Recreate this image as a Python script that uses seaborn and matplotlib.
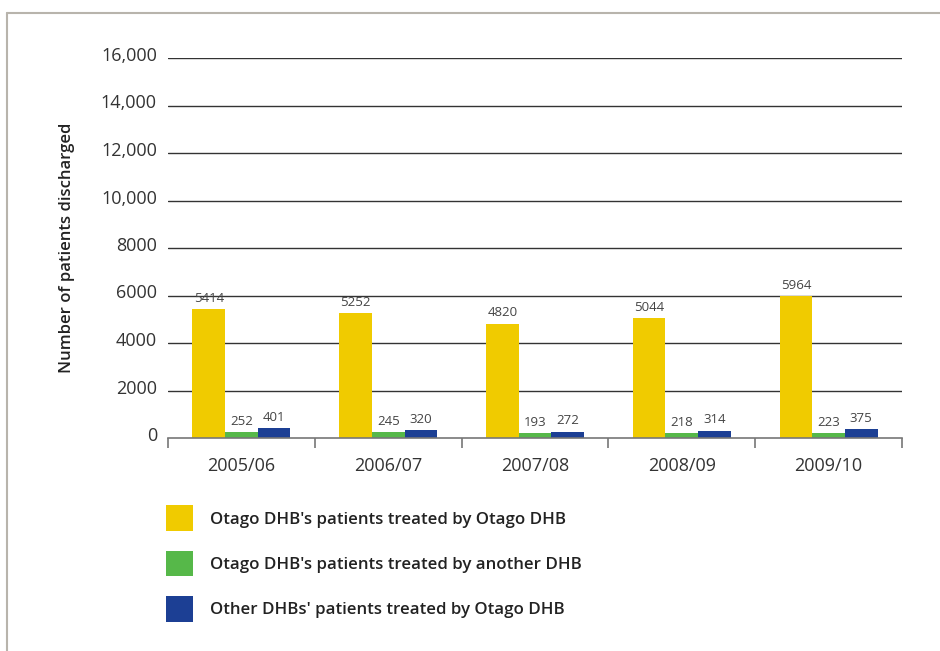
import matplotlib
matplotlib.use("Agg")
import matplotlib.pyplot as plt
import matplotlib.transforms as mtransforms
import seaborn as sns
import pandas as pd
from matplotlib.patches import Patch
from matplotlib.lines import Line2D
from matplotlib.ticker import FixedLocator

years = ["2005/06", "2006/07", "2007/08", "2008/09", "2009/10"]
series_names = [
    "Otago DHB's patients treated by Otago DHB",
    "Otago DHB's patients treated by another DHB",
    "Other DHBs' patients treated by Otago DHB",
]
otago_by_otago = [5414, 5252, 4820, 5044, 5964]
otago_by_other = [252, 245, 193, 218, 223]
other_by_otago = [401, 320, 272, 314, 375]
colors = ["#F0CB00", "#56B849", "#1C3F94"]
y_ticks = [0, 2000, 4000, 6000, 8000, 10000, 12000, 14000, 16000]
y_tick_labels = ["0", "2000", "4000", "6000", "8000", "10,000", "12,000", "14,000", "16,000"]

rows = []
for name, vals in zip(series_names, [otago_by_otago, otago_by_other, other_by_otago]):
    for y, v in zip(years, vals):
        rows.append({"Year": y, "Series": name, "Value": v})
df = pd.DataFrame(rows)

sns.set_theme(style="white")
plt.rcParams["font.family"] = ["Open Sans", "DejaVu Sans"]

fig = plt.figure(figsize=(9.4, 6.51), dpi=100)
ax = fig.add_axes([168 / 940, 1 - 438 / 651, (902 - 168) / 940, (438 - 58) / 651])

sns.barplot(data=df, x="Year", y="Value", hue="Series", order=years,
            hue_order=series_names, palette=colors, width=0.667,
            saturation=1, ax=ax, legend=False, edgecolor="none", linewidth=0)

for cont in ax.containers:
    ax.bar_label(cont, fmt="%d", padding=3, fontsize=9.5, color="#444444")

ax.set_ylim(0, 16000)
ax.set_xlim(-0.5, len(years) - 0.5)
ax.set_yticks(y_ticks)
ax.set_yticklabels(y_tick_labels)
for t in y_ticks[1:]:
    ax.axhline(t, color="#333333", linewidth=1.0, zorder=0)

for s in ["top", "right", "left"]:
    ax.spines[s].set_visible(False)
ax.spines["bottom"].set_color("#777777")
ax.spines["bottom"].set_linewidth(1.2)

ax.tick_params(axis="y", length=0, pad=8, labelsize=13, labelcolor="#333333")
ax.tick_params(axis="x", which="major", length=0, pad=14, labelsize=13, labelcolor="#333333")
ax.xaxis.set_minor_locator(FixedLocator([i - 0.5 for i in range(len(years) + 1)]))
ax.tick_params(axis="x", which="minor", length=7, width=1.2, color="#777777", bottom=True)

offset = mtransforms.ScaledTranslation(0, 4 / 100, fig.dpi_scale_trans)
for lbl in ax.get_yticklabels():
    lbl.set_transform(lbl.get_transform() + offset)

ax.set_xlabel("")
ax.set_ylabel("Number of patients discharged", fontsize=12, fontweight="semibold", color="#222222")
ax.yaxis.set_label_coords(-0.127, 0.5)

handles = [Patch(facecolor=c, edgecolor="none") for c in colors]
fig.legend(handles, series_names, loc="upper left",
           bbox_to_anchor=(151 / 940, 1 - 490 / 651), frameon=False,
           prop={"size": 12.2, "weight": "semibold"}, labelcolor="#222222",
           handlelength=1.6, handleheight=1.97, handletextpad=1.0, labelspacing=1.15)

fig.add_artist(Line2D([7 / 940, 1], [1 - 13 / 651, 1 - 13 / 651], transform=fig.transFigure,
                      color="#B8B4AC", linewidth=1.5))
fig.add_artist(Line2D([7 / 940, 7 / 940], [0, 1 - 13 / 651], transform=fig.transFigure,
                      color="#B8B4AC", linewidth=1.5))

fig.savefig("out.png", dpi=100)
